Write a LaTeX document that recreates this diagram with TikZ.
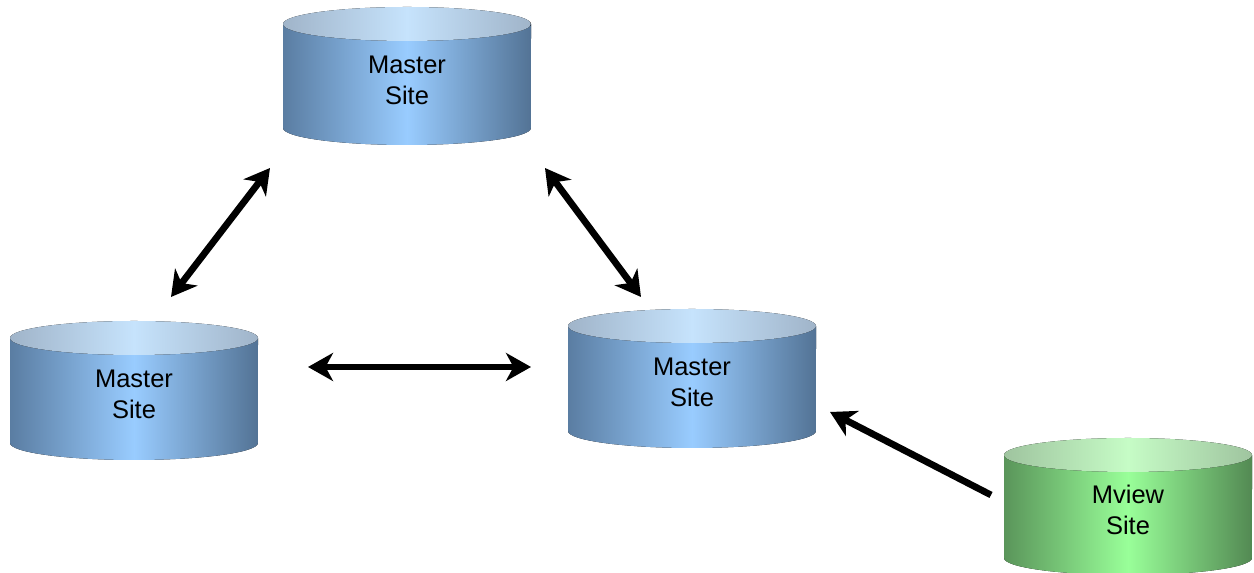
\documentclass[tikz,border=0pt]{standalone}
\usepackage{fontspec}
\setmainfont{Liberation Sans}
\usetikzlibrary{arrows.meta}
\definecolor{blueedge}{HTML}{5A7DA2}
\definecolor{bluemid}{HTML}{99CCFF}
\definecolor{bluelidedge}{HTML}{A0B4C9}
\definecolor{bluelidmid}{HTML}{C6E3FC}
\definecolor{greenedge}{HTML}{5A955A}
\definecolor{greenmid}{HTML}{99FF99}
\definecolor{greenlidedge}{HTML}{9FC49F}
\definecolor{greenlidmid}{HTML}{C6FCC6}
\tikzset{
  body blue/.style = {left color=blueedge, right color=blueedge!92!black, middle color=bluemid},
  lid blue/.style = {left color=bluelidedge, right color=bluelidedge, middle color=bluelidmid},
  body green/.style = {left color=greenedge, right color=greenedge!92!black, middle color=greenmid},
  lid green/.style = {left color=greenlidedge, right color=greenlidedge, middle color=greenlidmid},
  site/.style = {align=center, font=\fontsize{14.5}{17.6}\selectfont},
  link/.style = {line width=0.135cm, {Stealth[length=0.5cm, width=0.56cm, inset=0.15cm]}-{Stealth[length=0.5cm, width=0.56cm, inset=0.15cm]}},
  feed/.style = {line width=0.135cm, -{Stealth[length=0.5cm, width=0.56cm, inset=0.15cm]}}
}
\begin{document}
\begin{tikzpicture}[x=0.02cm, y=0.02cm]
    \useasboundingbox (0,0) rectangle (1254,573);

    % cylinders
    \foreach \cx/\yt/\yb/\c in {407/549/445/blue, 134/235/130/blue, 692/247/142/blue, 1128/118/15/green} {
        \fill[body \c] (\cx-124,\yt) -- (\cx-124,\yb) arc[start angle=180, end angle=360, x radius=2.48cm, y radius=0.34cm] -- (\cx+124,\yt) -- cycle;
        \fill[lid \c] (\cx,\yt) ellipse[x radius=2.48cm, y radius=0.34cm];
    }

    \node[site] (top) at (407,493) {Master\\Site};
    \node[site] (left) at (134,179) {Master\\Site};
    \node[site] (mid) at (692,191) {Master\\Site};
    \node[site] (mview) at (1128,63) {Mview\\Site};

    \coordinate (tl1) at (171,276);
    \coordinate (tl2) at (270,405);
    \coordinate (tr1) at (545,405);
    \coordinate (tr2) at (641,276);
    \coordinate (h1) at (308,206);
    \coordinate (h2) at (531,206);
    \coordinate (m1) at (991,78);
    \coordinate (m2) at (830,161);

    \draw[link] (tl1) -- (tl2);
    \draw[link] (tr1) -- (tr2);
    \draw[link] (h1) -- (h2);
    \draw[feed] (m1) -- (m2);
\end{tikzpicture}
\end{document}
